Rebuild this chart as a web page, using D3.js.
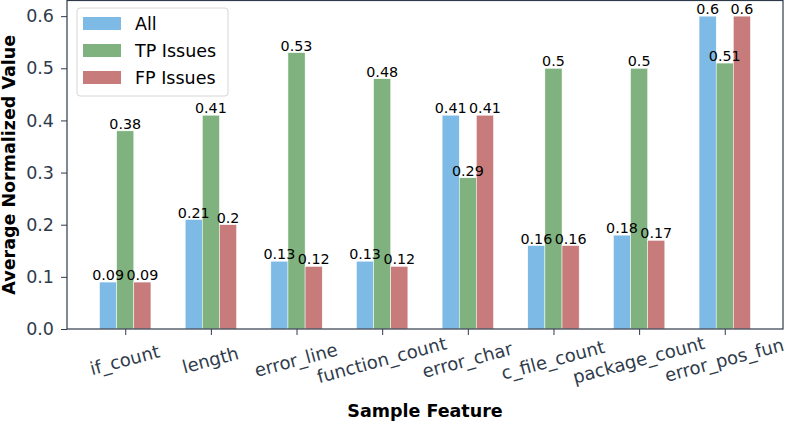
<!DOCTYPE html>
<html><head><meta charset="utf-8">
<script src="https://cdn.jsdelivr.net/npm/d3@7"></script>
<style>body{margin:0;background:#fff}text{font-family:"DejaVu Sans",sans-serif}</style>
</head><body><svg id="c" width="788" height="421"></svg>
<script>
const categories = ["if_count","length","error_line","function_count","error_char","c_file_count","package_count","error_pos_fun"];
const seriesNames = ["All","TP Issues","FP Issues"];
const allVals = [0.09,0.21,0.13,0.13,0.41,0.16,0.18,0.6];
const tpVals  = [0.38,0.41,0.53,0.48,0.29,0.5,0.5,0.51];
const fpVals  = [0.09,0.2,0.12,0.12,0.41,0.16,0.17,0.6];
const yTicks = [0,0.1,0.2,0.3,0.4,0.5,0.6];
const colors = ["#7dbae5","#7fb27e","#c77b7a"];
const series = [allVals, tpVals, fpVals];

const svg = d3.select("#c");
const L=67, R=783, T=0.5, B=329;
const x = d3.scaleLinear().domain([-0.68, categories.length-1+0.68]).range([L,R]);
const y = d3.scaleLinear().domain([0,0.63]).range([B,T]);
const bw = 0.2;
const txt = "#2f3b4b";

series.forEach((vals,si)=>{
  const g = svg.append("g");
  g.selectAll("rect").data(vals).join("rect")
    .attr("x",(d,i)=>x(i+(si-1)*bw-bw/2))
    .attr("width",x(bw)-x(0))
    .attr("y",d=>y(d)).attr("height",d=>y(0)-y(d))
    .attr("fill",colors[si]).attr("stroke","#fff").attr("stroke-width",0.5);
});
series.forEach((vals,si)=>{
  svg.append("g").selectAll("text").data(vals).join("text")
    .attr("x",(d,i)=>x(i+(si-1)*bw))
    .attr("y",d=>y(d)-2)
    .attr("text-anchor","middle").attr("font-size",14.3).attr("fill","#000")
    .text(d=>d);
});

// axes
const yAxis = d3.axisLeft(y).tickValues(yTicks).tickFormat(d3.format(".1f")).tickSize(6).tickPadding(7);
const ya = svg.append("g").attr("transform",`translate(${L},0)`).call(yAxis);
ya.select(".domain").remove();
ya.selectAll("line").attr("stroke",txt);
ya.selectAll("text").attr("font-size",17.5).attr("fill",txt).attr("font-family","DejaVu Sans");

const xAxis = d3.axisBottom(x).tickValues(d3.range(categories.length)).tickFormat(i=>categories[i]).tickSize(6).tickPadding(0);
const xa = svg.append("g").attr("transform",`translate(0,${B})`).call(xAxis);
xa.select(".domain").remove();
xa.selectAll("line").attr("stroke",txt);
xa.selectAll("text").attr("font-size",18).attr("fill",txt).attr("font-family","DejaVu Sans")
  .attr("text-anchor","middle").attr("dy","0.35em").attr("y",0)
  .attr("transform","translate(-1,31) rotate(-15)");

svg.append("rect").attr("x",L).attr("y",T).attr("width",R-L).attr("height",B-T)
  .attr("fill","none").attr("stroke",txt).attr("stroke-width",1.2);

// labels
svg.append("text").attr("x",(L+R)/2).attr("y",417).attr("text-anchor","middle")
  .attr("font-size",17.5).attr("font-weight","bold").text("Sample Feature");
svg.append("text").attr("transform",`translate(15,${(T+B)/2}) rotate(-90)`).attr("text-anchor","middle")
  .attr("font-size",17.5).attr("font-weight","bold").text("Average Normalized Value");

// legend
const lg = svg.append("g");
lg.append("rect").attr("x",77).attr("y",8).attr("width",151).attr("height",88).attr("rx",3)
  .attr("fill","#fff").attr("fill-opacity",0.85).attr("stroke","#d6d6d6");
seriesNames.forEach((n,i)=>{
  lg.append("rect").attr("x",83).attr("y",17+i*27).attr("width",38).attr("height",13).attr("fill",colors[i]);
  lg.append("text").attr("x",135).attr("y",30+i*27).attr("font-size",17.5).attr("fill","#000").text(n);
});
</script></body></html>
